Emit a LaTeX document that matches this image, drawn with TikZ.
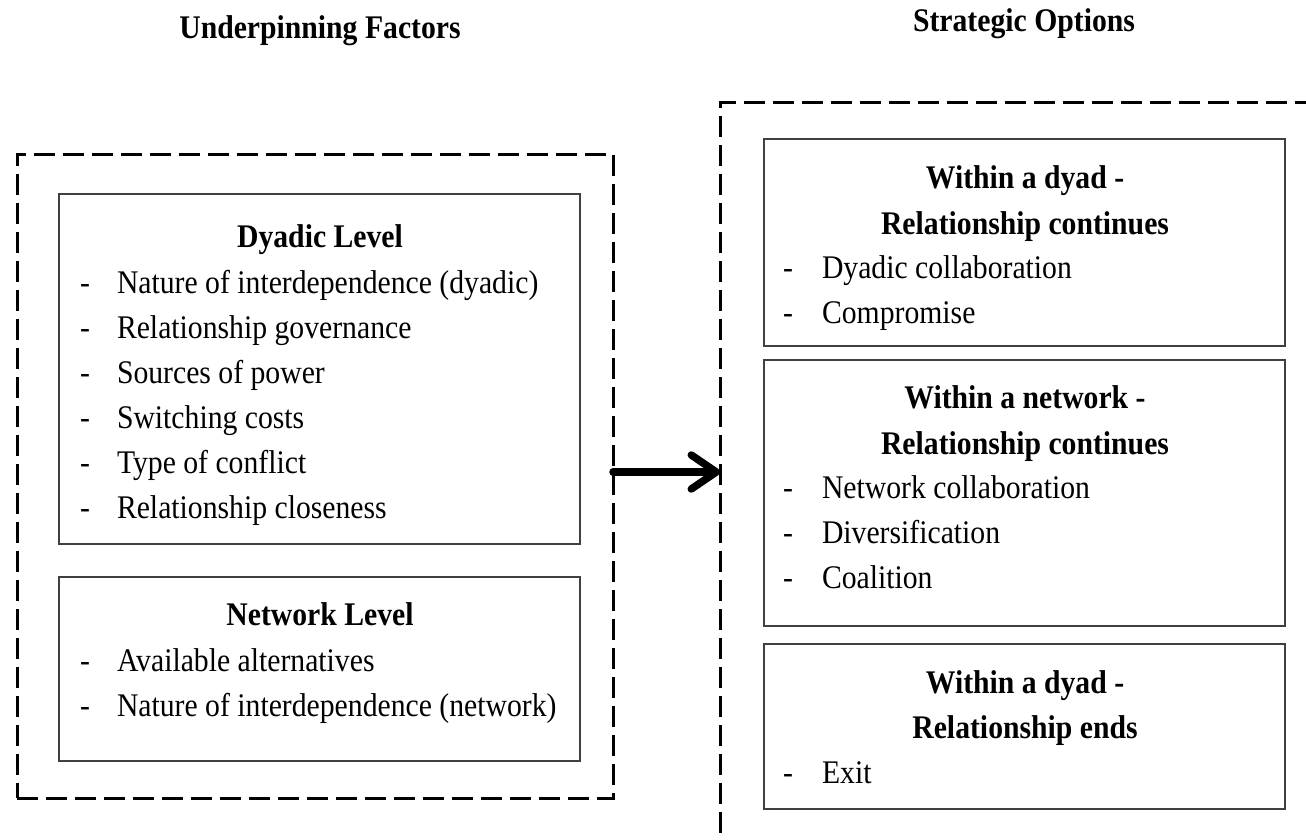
\documentclass[tikz,border=0pt]{standalone}
\usepackage{fontspec}
\setmainfont{Liberation Serif}[FakeStretch=0.9]
\usetikzlibrary{arrows.meta}
\begin{document}
\begin{tikzpicture}[x=1pt,y=-1pt,
  every node/.style={font=\fontsize{33}{45}\selectfont, inner sep=0pt, outer sep=0pt},
  frame/.style={draw, line width=3pt, dash pattern=on 21pt off 8pt},
  panel/.style={draw=black!75, line width=1.3pt},
  head/.style={font=\fontsize{33}{45}\selectfont\bfseries, anchor=base},
  item/.style={anchor=base west},
  bigarrow/.style={line width=7.5pt, line cap=round, -{Straight Barb[length=25pt,width=34pt,round]}}
]
\useasboundingbox (0,0) rectangle (1306,840);

% titles
\node[head] (t1) at (320,39) {Underpinning Factors};
\node[head] (t2) at (1024,32) {Strategic Options};

% dashed frames
\node[frame, minimum width=596pt, minimum height=644pt] (lframe) at (315,476) {};
\begin{scope}
\clip (0,0) rectangle (1306,840);
\node[frame, minimum width=620pt, minimum height=777pt] (rframe) at (1030,491.5) {};
\end{scope}

% left panels
\node[panel, minimum width=521pt, minimum height=350pt] (dyad) at (319.5,369) {};
\node[panel, minimum width=521pt, minimum height=184pt] (net) at (319.5,669) {};

\node[head] (h1) at (320,247) {Dyadic Level};
\foreach \y/\t [count=\i] in {293/Nature of interdependence (dyadic),
  338/Relationship governance, 383/Sources of power, 428/Switching costs,
  473/Type of conflict, 518/Relationship closeness}{
  \node[item] (dm\i) at (80,\y) {-};
  \node[item] (di\i) at (117,\y) {\t};
}
\node[head] (h2) at (320,625) {Network Level};
\foreach \y/\t [count=\i] in {671/Available alternatives, 716/Nature of interdependence (network)}{
  \node[item] (nm\i) at (80,\y) {-};
  \node[item] (ni\i) at (117,\y) {\t};
}

% right panels
\node[panel, minimum width=521pt, minimum height=207pt] (r1) at (1024.5,242.5) {};
\node[panel, minimum width=521pt, minimum height=266pt] (r2) at (1024.5,493) {};
\node[panel, minimum width=521pt, minimum height=165pt] (r3) at (1024.5,726.5) {};

\node[head] (r1h1) at (1025,188) {Within a dyad -};
\node[head] (r1h2) at (1025,234) {Relationship continues};
\foreach \y/\t [count=\i] in {278/Dyadic collaboration, 323/Compromise}{
  \node[item] (am\i) at (783,\y) {-};
  \node[item] (ai\i) at (822,\y) {\t};
}
\node[head] (r2h1) at (1025,408) {Within a network -};
\node[head] (r2h2) at (1025,454) {Relationship continues};
\foreach \y/\t [count=\i] in {498/Network collaboration, 543/Diversification, 588/Coalition}{
  \node[item] (bm\i) at (783,\y) {-};
  \node[item] (bi\i) at (822,\y) {\t};
}
\node[head] (r3h1) at (1025,693) {Within a dyad -};
\node[head] (r3h2) at (1025,738) {Relationship ends};
\node[item] (cm1) at (783,783) {-};
\node[item] (ci1) at (822,783) {Exit};

% arrow
\coordinate (as) at ([yshift=4pt]lframe.east);
\draw[bigarrow] (as) -- (as -| rframe.west);
\end{tikzpicture}
\end{document}
